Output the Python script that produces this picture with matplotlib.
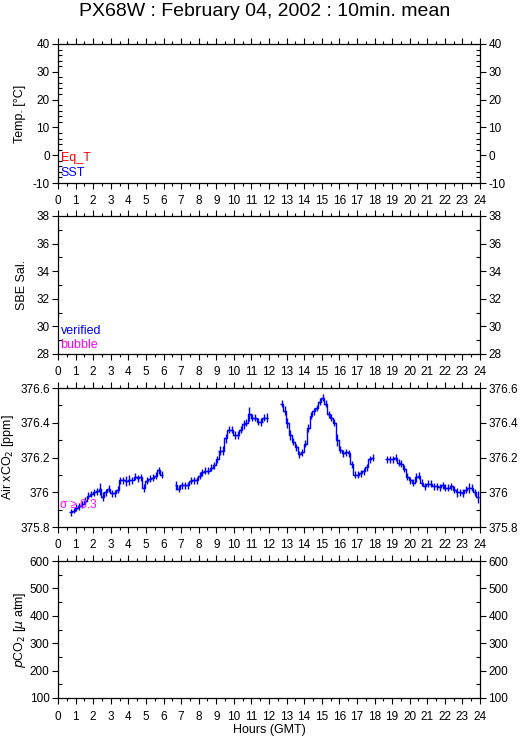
import numpy as np
import matplotlib
matplotlib.use("Agg")
import matplotlib.pyplot as plt
from matplotlib.ticker import MultipleLocator, FuncFormatter

plt.rcParams['font.family'] = ['Liberation Sans', 'DejaVu Sans']

title = "PX68W : February 04, 2002 : 10min. mean"

# Air xCO2 10-min means (hours GMT), four segments
hours_1 = [0.72, 0.89, 1.05, 1.22, 1.39, 1.55, 1.72, 1.89, 2.05, 2.22, 2.39, 2.55, 2.72, 2.89, 3.05, 3.22,
           3.39, 3.55, 3.72, 3.89, 4.05, 4.22, 4.39, 4.55, 4.72, 4.89, 5.05, 5.22, 5.39, 5.55, 5.72, 5.89]
xco2_1 = [375.884, 375.893, 375.91, 375.92, 375.93, 375.95, 375.98, 375.99, 376.00, 376.005, 376.02, 375.975,
          376.00, 376.02, 375.995, 375.995, 376.015, 376.07, 376.07, 376.065, 376.07, 376.07, 376.09, 376.08,
          376.085, 376.025, 376.067, 376.078, 376.083, 376.096, 376.127, 376.10]
err_1 = [0.02, 0.015, 0.02, 0.02, 0.02, 0.02, 0.02, 0.02, 0.02, 0.02, 0.035, 0.025, 0.02, 0.02, 0.02, 0.02,
         0.02, 0.02, 0.02, 0.03, 0.03, 0.02, 0.02, 0.02, 0.02, 0.025, 0.02, 0.02, 0.02, 0.02, 0.02, 0.02]

hours_2 = [6.71, 6.88, 7.05, 7.21, 7.38, 7.55, 7.71, 7.88, 8.05, 8.21, 8.38, 8.55, 8.71, 8.88, 9.05, 9.21,
           9.38, 9.55, 9.71, 9.88, 10.05, 10.21, 10.38, 10.55, 10.71, 10.88, 11.05, 11.21, 11.38, 11.55, 11.71, 11.88]
xco2_2 = [376.04, 376.02, 376.04, 376.04, 376.04, 376.065, 376.07, 376.07, 376.095, 376.115, 376.125, 376.125,
          376.14, 376.155, 376.19, 376.24, 376.24, 376.31, 376.36, 376.36, 376.33, 376.33, 376.36, 376.39,
          376.40, 376.45, 376.43, 376.43, 376.405, 376.405, 376.43, 376.43]
err_2 = [0.025, 0.02, 0.02, 0.02, 0.02, 0.02, 0.02, 0.02, 0.02, 0.02, 0.02, 0.02, 0.02, 0.02, 0.02, 0.025,
         0.025, 0.025, 0.02, 0.02, 0.025, 0.025, 0.02, 0.025, 0.02, 0.04, 0.02, 0.02, 0.02, 0.025, 0.02, 0.025]

hours_3 = [12.72, 12.89, 13.05, 13.22, 13.39, 13.55, 13.72, 13.89, 14.05, 14.22, 14.39, 14.55, 14.72, 14.89,
           15.05, 15.22, 15.39, 15.55, 15.72, 15.89, 16.05, 16.22, 16.39, 16.55, 16.72, 16.89, 17.05, 17.22,
           17.39, 17.55, 17.72, 17.89]
xco2_3 = [376.51, 376.47, 376.40, 376.33, 376.29, 376.26, 376.22, 376.23, 376.28, 376.37, 376.44, 376.465,
          376.485, 376.52, 376.545, 376.51, 376.45, 376.43, 376.40, 376.30, 376.245, 376.225, 376.23, 376.225,
          376.16, 376.10, 376.10, 376.11, 376.12, 376.145, 376.19, 376.20]
err_3 = [0.02, 0.025, 0.03, 0.03, 0.02, 0.02, 0.02, 0.02, 0.02, 0.025, 0.02, 0.02, 0.02, 0.02, 0.02, 0.02,
         0.02, 0.02, 0.02, 0.035, 0.02, 0.02, 0.02, 0.02, 0.02, 0.02, 0.02, 0.02, 0.02, 0.02, 0.02, 0.02]

hours_4 = [18.70, 18.87, 19.03, 19.20, 19.37, 19.53, 19.70, 19.87, 20.03, 20.20, 20.37, 20.53, 20.70, 20.87,
           21.03, 21.20, 21.37, 21.53, 21.70, 21.87, 22.03, 22.20, 22.37, 22.53, 22.70, 22.87, 23.03, 23.20,
           23.37, 23.53, 23.70, 23.87]
xco2_4 = [376.19, 376.19, 376.19, 376.20, 376.17, 376.165, 376.135, 376.09, 376.07, 376.055, 376.085, 376.095,
          376.055, 376.035, 376.05, 376.05, 376.035, 376.035, 376.03, 376.04, 376.025, 376.025, 376.035, 376.015,
          376.00, 376.00, 375.995, 376.015, 376.025, 376.025, 376.00, 375.975]
err_4 = [0.02, 0.02, 0.02, 0.02, 0.02, 0.02, 0.02, 0.02, 0.02, 0.02, 0.025, 0.02, 0.02, 0.02, 0.02, 0.02,
         0.02, 0.02, 0.02, 0.02, 0.02, 0.02, 0.02, 0.02, 0.025, 0.02, 0.025, 0.02, 0.03, 0.02, 0.02, 0.035]

segments = [(hours_1, xco2_1, err_1), (hours_2, xco2_2, err_2),
            (hours_3, xco2_3, err_3), (hours_4, xco2_4, err_4)]

W, H = 529, 739
fig = plt.figure(figsize=(W / 100, H / 100), dpi=100)

def fx(px):
    return px / W

def fy(py):
    return 1 - py / H

left_px, right_px = 58, 480
panels = [  # top px, bottom px, ylim, major, minor, ylabel, label x px
    (44, 183, (-10, 40), 10, 2, "Temp. [°C]", 20),
    (216, 354, (28, 38), 2, 1, "SBE Sal.", 22),
    (388, 527, (375.8, 376.6), 0.2, 0.1, "Air xCO$_2$ [ppm]", 8),
    (561, 698, (100, 600), 100, 50, "$p$CO$_2$ [$\\mu$ atm]", 20),
]

fs = 8.5
axes = []
for top, bot, ylim, maj, mnr, lab, lx in panels:
    ax = fig.add_axes([fx(left_px), fy(bot), fx(right_px - left_px), (bot - top) / H])
    ax.set_xlim(0, 24)
    ax.set_ylim(*ylim)
    ax.xaxis.set_major_locator(MultipleLocator(1))
    ax.xaxis.set_minor_locator(MultipleLocator(0.5))
    ax.yaxis.set_major_locator(MultipleLocator(maj))
    ax.yaxis.set_minor_locator(MultipleLocator(mnr))
    ax.yaxis.set_major_formatter(FuncFormatter(lambda v, p: f"{v:.6g}"))
    ax.tick_params(axis='x', which='major', direction='out', length=4, width=0.8,
                   top=True, bottom=True, labelsize=fs, pad=5)
    ax.tick_params(axis='x', which='minor', direction='out', length=2.5, width=0.8,
                   top=True, bottom=True)
    ax.tick_params(axis='y', which='major', direction='out', length=4, width=0.8,
                   left=True, right=True, labelleft=True, labelright=True, labelsize=fs, pad=2)
    ax.tick_params(axis='y', which='minor', direction='in', length=3, width=0.8,
                   left=True, right=True)
    for s in ax.spines.values():
        s.set_linewidth(0.9)
    fig.text(fx(lx), fy((top + bot) / 2), lab, rotation=90, ha='center', va='center', fontsize=fs + 0.5)
    axes.append(ax)

ax1, ax2, ax3, ax4 = axes

ax1.text(0.006, 0.18, "Eq_T", color='red', transform=ax1.transAxes, fontsize=fs + 0.5, va='center')
ax1.text(0.006, 0.072, "SST", color='blue', transform=ax1.transAxes, fontsize=fs + 0.5, va='center')
ax2.text(0.006, 0.167, "verified", color='blue', transform=ax2.transAxes, fontsize=fs + 0.5, va='center')
ax2.text(0.006, 0.065, "bubble", color='magenta', transform=ax2.transAxes, fontsize=fs + 0.5, va='center')

for h, v, e in segments:
    ax3.step(h, v, where='mid', color='blue', lw=1.0)
    ax3.errorbar(h, v, xerr=1 / 12, yerr=e, fmt='none', ecolor='blue', elinewidth=1.0, capsize=0)

ax3.text(0.005, 0.155, "σ ≥ 0.3", color='magenta', transform=ax3.transAxes, fontsize=fs, va='center')

fig.text(0.5, fy(12), title, ha='center', va='center', fontsize=14)
fig.text(fx((left_px + right_px) / 2), fy(730), "Hours (GMT)", ha='center', va='center', fontsize=fs + 0.5)

fig.savefig("out.png", dpi=100)
